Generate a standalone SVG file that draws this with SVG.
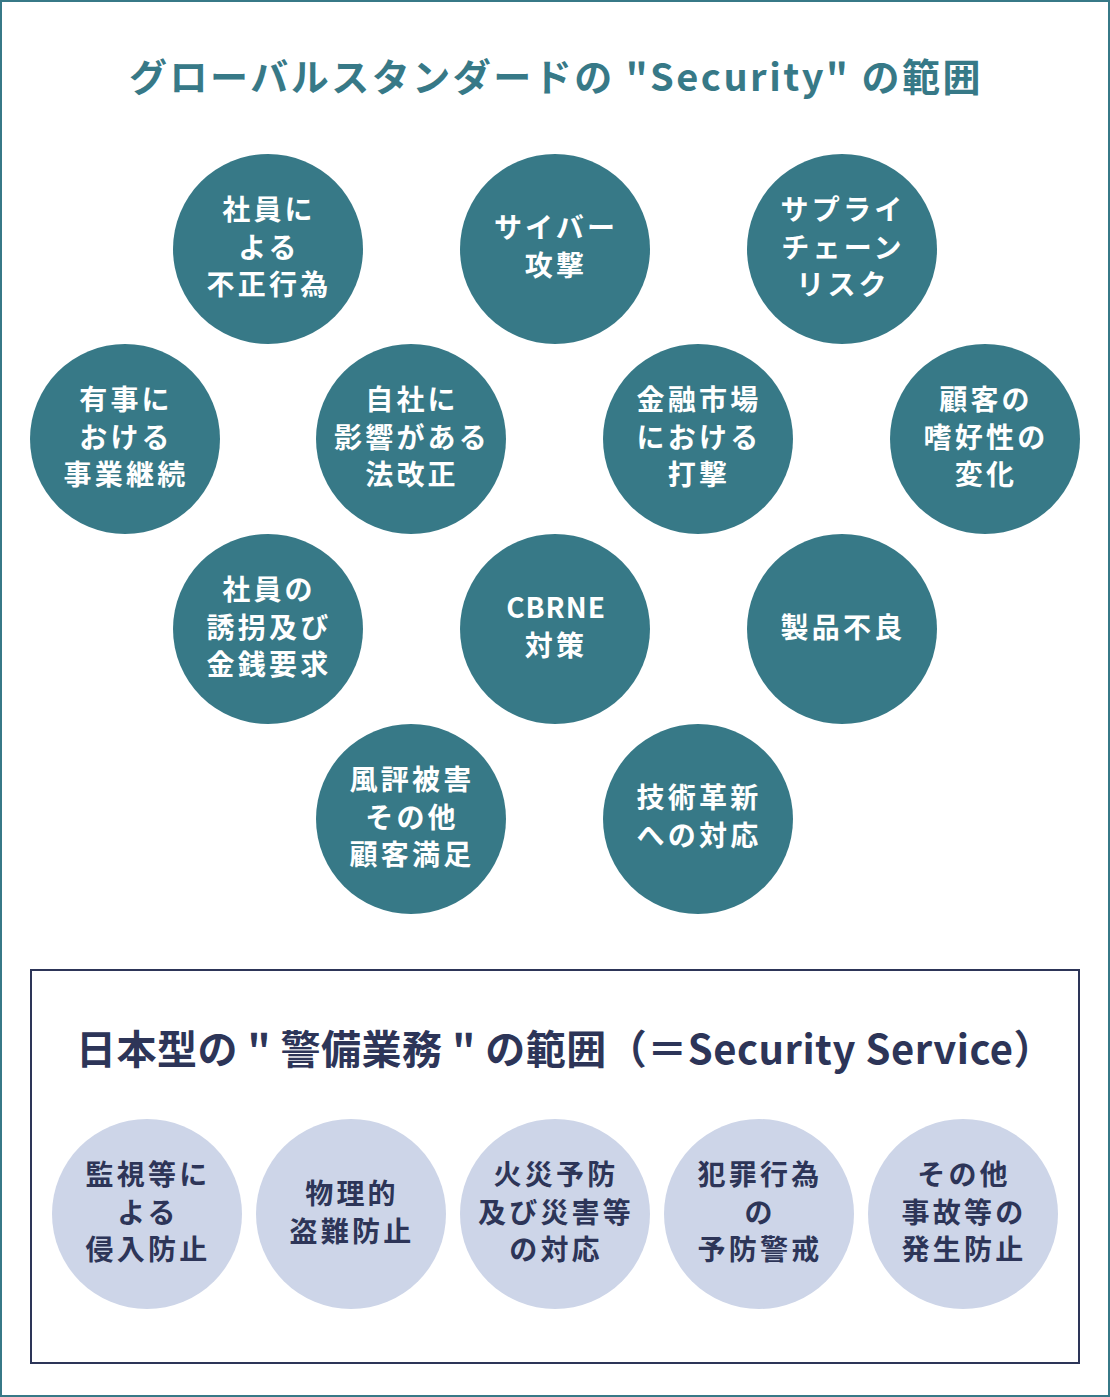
<svg xmlns="http://www.w3.org/2000/svg" width="1110" height="1397" viewBox="0 0 1110 1397">
<style>
.t{font-family:"Noto Sans CJK JP","Noto Sans",sans-serif;font-weight:bold;text-anchor:middle;}
.ct{font-size:28px;letter-spacing:3.2px;fill:#ffffff;}
.bt{font-size:28px;letter-spacing:3.2px;fill:#2d3558;}
.dc{fill:#377987;}
.lc{fill:#cdd5e8;}
</style>
<rect x="1" y="1" width="1108" height="1395" fill="#ffffff" stroke="#377987" stroke-width="2"/>
<text class="t" x="556" y="91" font-size="38" fill="#377987" letter-spacing="2.5">グローバルスタンダードの "Security" の範囲</text>
<g id="top-nodes">
<g id="n1"><circle class="dc" cx="268" cy="249" r="95"/><text class="t ct"><tspan x="269" y="220">社員に</tspan><tspan x="269" y="258">よる</tspan><tspan x="269" y="295">不正行為</tspan></text></g>
<g id="n2"><circle class="dc" cx="555" cy="249" r="95"/><text class="t ct"><tspan x="556" y="238">サイバー</tspan><tspan x="556" y="276">攻撃</tspan></text></g>
<g id="n3"><circle class="dc" cx="842" cy="249" r="95"/><text class="t ct"><tspan x="843" y="220">サプライ</tspan><tspan x="843" y="258">チェーン</tspan><tspan x="843" y="295">リスク</tspan></text></g>
<g id="n4"><circle class="dc" cx="125" cy="439" r="95"/><text class="t ct"><tspan x="126" y="410">有事に</tspan><tspan x="126" y="448">おける</tspan><tspan x="126" y="485">事業継続</tspan></text></g>
<g id="n5"><circle class="dc" cx="411" cy="439" r="95"/><text class="t ct"><tspan x="412" y="410">自社に</tspan><tspan x="412" y="448">影響がある</tspan><tspan x="412" y="485">法改正</tspan></text></g>
<g id="n6"><circle class="dc" cx="698" cy="439" r="95"/><text class="t ct"><tspan x="699" y="410">金融市場</tspan><tspan x="699" y="448">における</tspan><tspan x="699" y="485">打撃</tspan></text></g>
<g id="n7"><circle class="dc" cx="985" cy="439" r="95"/><text class="t ct"><tspan x="986" y="410">顧客の</tspan><tspan x="986" y="448">嗜好性の</tspan><tspan x="986" y="485">変化</tspan></text></g>
<g id="n8"><circle class="dc" cx="268" cy="629" r="95"/><text class="t ct"><tspan x="269" y="600">社員の</tspan><tspan x="269" y="638">誘拐及び</tspan><tspan x="269" y="675">金銭要求</tspan></text></g>
<g id="n9"><circle class="dc" cx="555" cy="629" r="95"/><text class="t ct"><tspan x="556" y="618" letter-spacing="1">CBRNE</tspan><tspan x="556" y="656">対策</tspan></text></g>
<g id="n10"><circle class="dc" cx="842" cy="629" r="95"/><text class="t ct"><tspan x="843" y="638">製品不良</tspan></text></g>
<g id="n11"><circle class="dc" cx="411" cy="819" r="95"/><text class="t ct"><tspan x="412" y="790">風評被害</tspan><tspan x="412" y="828">その他</tspan><tspan x="412" y="865">顧客満足</tspan></text></g>
<g id="n12"><circle class="dc" cx="698" cy="819" r="95"/><text class="t ct"><tspan x="699" y="808">技術革新</tspan><tspan x="699" y="846">への対応</tspan></text></g>
</g>
<g id="jp-box">
<rect x="31" y="970" width="1048" height="393" fill="none" stroke="#2d3558" stroke-width="2"/>
<text class="t" x="565" y="1064" font-size="40" fill="#2d3558" letter-spacing="0.5">日本型の " 警備業務 " の範囲（＝Security Service）</text>
</g>
<g id="bottom-nodes">
<g id="b1"><circle class="lc" cx="147" cy="1214" r="95"/><text class="t bt"><tspan x="148" y="1185">監視等に</tspan><tspan x="148" y="1223">よる</tspan><tspan x="148" y="1260">侵入防止</tspan></text></g>
<g id="b2"><circle class="lc" cx="351" cy="1214" r="95"/><text class="t bt"><tspan x="352" y="1204">物理的</tspan><tspan x="352" y="1242">盗難防止</tspan></text></g>
<g id="b3"><circle class="lc" cx="555" cy="1214" r="95"/><text class="t bt"><tspan x="556" y="1185">火災予防</tspan><tspan x="556" y="1223">及び災害等</tspan><tspan x="556" y="1260">の対応</tspan></text></g>
<g id="b4"><circle class="lc" cx="759" cy="1214" r="95"/><text class="t bt"><tspan x="760" y="1185">犯罪行為</tspan><tspan x="760" y="1223">の</tspan><tspan x="760" y="1260">予防警戒</tspan></text></g>
<g id="b5"><circle class="lc" cx="963" cy="1214" r="95"/><text class="t bt"><tspan x="964" y="1185">その他</tspan><tspan x="964" y="1223">事故等の</tspan><tspan x="964" y="1260">発生防止</tspan></text></g>
</g>
</svg>
